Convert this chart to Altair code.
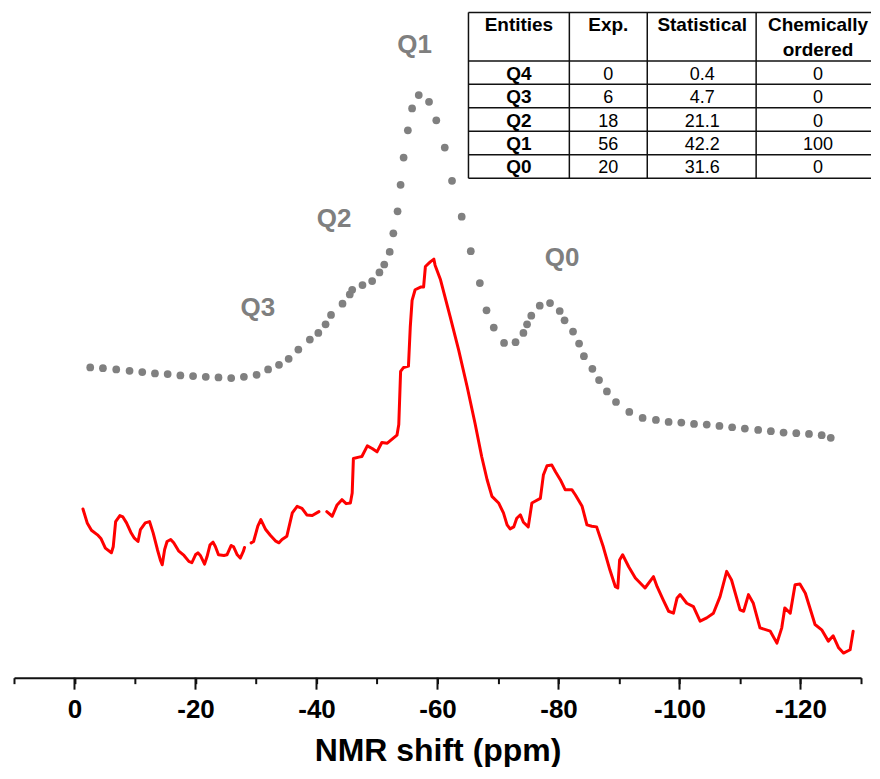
import altair as alt
import pandas as pd

# ---------------- data ----------------
# red experimental spectrum, three traced pieces (ppm, intensity in arbitrary units)
red_ppm_1 = [-1.4, -2.1, -2.8, -3.8, -4.4, -5.1, -6.1, -6.4, -6.8, -7.5,
             -8.0, -8.6, -9.3, -9.9, -10.5, -10.9, -11.7, -12.4, -13.0, -13.7,
             -14.2, -14.5, -14.9, -15.3, -15.9, -16.4, -17.2, -18.1, -18.9, -19.4,
             -20.0, -20.4, -20.8, -21.5, -21.9, -22.4, -22.9, -23.3, -23.8, -24.7,
             -25.2, -25.9, -26.3, -26.9, -27.4, -27.9, -28.1]
red_int_1 = [25.4, 23.3, 22.2, 21.5, 20.9, 19.5, 18.8, 19.7, 23.5, 24.4,
             24.2, 23.3, 21.9, 21.0, 20.5, 22.3, 23.3, 23.5, 21.8, 19.3,
             17.7, 17.0, 19.3, 20.5, 20.8, 20.3, 19.1, 18.4, 17.5, 17.3,
             18.5, 18.8, 18.4, 17.1, 18.2, 20.0, 20.4, 19.7, 18.5, 18.4,
             18.5, 19.9, 19.7, 18.5, 18.0, 19.0, 19.6]

red_ppm_2 = [-29.2, -29.6, -30.3, -30.8, -31.6, -32.4, -33.2, -33.8, -34.3, -35.1,
             -36.0, -36.8, -37.6, -38.4, -39.3, -40.4]
red_int_2 = [20.3, 20.5, 22.8, 23.8, 22.3, 21.4, 20.6, 20.3, 20.8, 21.3,
             24.8, 25.8, 25.5, 24.5, 24.4, 25.0]

red_ppm_3 = [-41.7, -42.6, -43.4, -44.2, -44.9, -45.6, -45.9, -46.1, -47.0, -47.5,
             -48.4, -49.2, -50.0, -50.8, -51.7, -52.5, -53.3, -53.6, -53.9, -54.4,
             -55.2, -55.5, -55.8, -56.3, -57.2, -57.7, -58.0, -58.8, -59.4, -59.6,
             -60.5, -62.1, -63.5, -64.9, -66.2, -67.3, -68.2, -69.0, -70.1, -70.9,
             -71.5, -72.0, -72.6, -73.1, -73.7, -74.2, -75.0, -75.6, -76.2, -77.0,
             -77.5, -78.1, -78.9, -79.5, -80.3, -81.1, -82.2, -82.8, -83.9, -84.7,
             -85.5, -86.3, -87.4, -88.5, -89.4, -89.8, -90.1, -90.6, -91.6, -92.7,
             -94.3, -95.7, -96.3, -97.3, -98.2, -99.0, -99.6, -100.1, -101.2, -102.3,
             -103.4, -104.5, -105.6, -106.7, -107.8, -108.6, -110.0, -110.6, -111.4, -112.2,
             -113.3, -115.0, -116.1, -116.9, -117.4, -118.3, -119.1, -119.9, -120.8, -122.4,
             -123.5, -124.6, -125.4, -126.3, -127.1, -128.2, -128.7]
red_int_3 = [25.0, 24.3, 26.0, 26.8, 26.2, 26.3, 27.8, 33.0, 33.2, 33.3,
             34.9, 34.5, 34.0, 35.4, 35.3, 35.9, 36.5, 38.1, 46.1, 46.7,
             46.9, 52.8, 56.8, 58.4, 58.8, 58.8, 61.9, 62.6, 63.0, 62.1,
             59.9, 54.3, 49.3, 43.8, 38.3, 33.3, 29.8, 27.3, 26.3, 24.8,
             23.0, 22.4, 22.7, 24.0, 24.5, 23.4, 22.7, 26.3, 26.6, 27.0,
             30.5, 31.9, 32.0, 31.0, 29.8, 28.3, 28.3, 27.5, 25.8, 23.0,
             22.8, 22.7, 19.7, 16.2, 13.7, 13.5, 17.7, 18.5, 16.7, 15.0,
             13.5, 15.2, 13.7, 11.7, 10.0, 9.7, 12.0, 12.5, 11.2, 10.7,
             8.5, 9.0, 9.7, 12.2, 16.0, 14.7, 10.2, 10.0, 12.5, 11.2,
             7.5, 7.0, 5.2, 7.5, 10.5, 9.7, 14.0, 14.1, 12.7, 8.0,
             7.2, 5.5, 6.3, 4.5, 3.7, 4.2, 7.0]

# grey dotted (simulated) spectrum
grey_ppm = [-2.6, -4.7, -6.9, -9.1, -11.2, -13.3, -15.4, -17.5, -19.6, -21.7,
            -23.8, -25.9, -28.0, -30.1, -32.0, -33.8, -35.4, -37.0, -38.9, -40.3,
            -41.5, -42.4, -44.3, -45.5, -45.9, -47.6, -49.2, -50.4, -51.2, -52.1,
            -52.7, -53.4, -53.9, -54.4, -55.1, -55.8, -56.9, -58.6, -59.8, -61.2,
            -62.4, -64.0, -65.5, -67.0, -68.1, -69.3, -71.0, -72.9, -74.2, -74.8,
            -75.5, -76.9, -78.6, -80.2, -81.0, -82.4, -83.4, -84.2, -85.6, -86.7,
            -88.0, -89.5, -91.7, -93.9, -96.1, -98.2, -100.3, -102.4, -104.5, -106.6,
            -108.7, -110.8, -113.0, -115.1, -117.2, -119.3, -121.4, -123.5, -125.0]
grey_int = [46.7, 46.6, 46.4, 46.2, 46.0, 45.8, 45.7, 45.5, 45.4, 45.3,
            45.2, 45.1, 45.3, 45.6, 46.4, 47.1, 48.0, 49.4, 50.9, 51.9,
            53.2, 54.6, 56.3, 57.7, 58.4, 59.1, 59.7, 61.0, 62.2, 64.1,
            66.9, 70.2, 74.2, 78.3, 82.4, 85.7, 87.7, 86.7, 83.9, 79.8,
            74.8, 69.4, 64.2, 59.4, 55.3, 52.7, 50.4, 50.5, 51.9, 53.2,
            54.5, 56.0, 56.4, 55.2, 53.8, 52.1, 50.3, 48.4, 46.5, 44.8,
            43.1, 41.5, 40.0, 39.1, 38.8, 38.5, 38.4, 38.2, 38.1, 37.9,
            37.7, 37.5, 37.3, 37.1, 36.9, 36.8, 36.7, 36.5, 36.1]

# peak annotations
peak_labels = ["Q3", "Q2", "Q1", "Q0"]
peak_ppm = [-30.3, -42.9, -56.2, -80.6]
peak_int = [55.7, 69.0, 95.3, 63.2]

# axis ticks
tick_values = list(range(10, -131, -10))
major_ticks = [0, -20, -40, -60, -80, -100, -120]

# table content
table_header = ["Entities", "Exp.", "Statistical", "Chemically"]
table_header2 = ["", "", "", "ordered"]
entities = ["Q4", "Q3", "Q2", "Q1", "Q0"]
exp_vals = ["0", "6", "18", "56", "20"]
stat_vals = ["0.4", "4.7", "21.1", "42.2", "31.6"]
chem_vals = ["0", "0", "0", "100", "0"]

# ---------------- layout ----------------
FONT = "Liberation Sans"
W, H = 848, 670
PAD = {"left": 5, "top": 0, "right": 0, "bottom": 0}
OX, OY = 8 + PAD["left"], 8 + PAD["top"]   # page position of plot origin

col_edges = [468, 569, 647, 756, 871]
row_edges = [12, 60.5, 84, 107.5, 131, 154.5, 178]
col_centers = [518.5, 608, 702, 818]
header_base = [30.5, 55.5]
row_base = [79.5, 103, 126.5, 149.5, 173]

xscale = alt.Scale(domain=[10, -130], nice=False, zero=False)
yscale = alt.Scale(domain=[0, 100.75], nice=False, zero=False)

# ---------------- frames ----------------
rows = []
for seg, (xs, ys) in enumerate([(red_ppm_1, red_int_1), (red_ppm_2, red_int_2), (red_ppm_3, red_int_3)]):
    for i, (a, b) in enumerate(zip(xs, ys)):
        rows.append({"seg": seg, "i": i, "ppm": a, "v": b})
red_df = pd.DataFrame(rows)
grey_df = pd.DataFrame({"ppm": grey_ppm, "v": grey_int})
peak_df = pd.DataFrame({"label": peak_labels, "ppm": peak_ppm, "v": peak_int})
major_df = pd.DataFrame({"ppm": major_ticks})

axis = alt.Axis(
    values=tick_values,
    labelExpr="datum.value % 20 === 0 ? (datum.value < 0 ? '-' + abs(datum.value) : '' + datum.value) : ''",
    tickSize=6, tickWidth=2, tickColor="#111111",
    domainColor="#111111", domainWidth=2,
    labelFont=FONT, labelFontSize=26, labelFontWeight="bold", labelColor="#000000",
    labelPadding=13, labelFlush=False, labelOverlap=False,
    title="NMR shift (ppm)", titleFont=FONT, titleFontSize=32, titleFontWeight="bold",
    titleColor="#000000", titlePadding=13, grid=False,
)

red = alt.Chart(red_df).mark_line(color="#ff0000", strokeWidth=3, strokeJoin="round",
                                  strokeCap="round").encode(
    x=alt.X("ppm:Q", scale=xscale, axis=axis),
    y=alt.Y("v:Q", scale=yscale, axis=None),
    detail="seg:N",
    order="i:Q",
)

grey = alt.Chart(grey_df).mark_circle(size=60, color="#808080", opacity=1).encode(
    x=alt.X("ppm:Q", scale=xscale),
    y=alt.Y("v:Q", scale=yscale),
)

peaks = alt.Chart(peak_df).mark_text(
    font=FONT, fontSize=26, fontWeight="bold", color="#7f7f7f", align="center", baseline="middle"
).encode(
    x=alt.X("ppm:Q", scale=xscale),
    y=alt.Y("v:Q", scale=yscale),
    text="label:N",
)

majors = alt.Chart(major_df).mark_rule(color="#111111", strokeWidth=2).encode(
    x=alt.X("ppm:Q", scale=xscale),
    y=alt.value(H),
    y2=alt.value(H + 12),
)

main = alt.layer(red, grey, peaks, majors)

# ---------------- table (pixel layout) ----------------
lines = []
for cx in col_edges[:-1]:
    lines.append({"x": cx - OX, "x2": cx - OX, "y": row_edges[0] - OY, "y2": row_edges[-1] - OY})
for ry in row_edges:
    lines.append({"x": col_edges[0] - OX, "x2": col_edges[-1] - OX, "y": ry - OY, "y2": ry - OY})
lines_df = pd.DataFrame(lines)

bold_cells, reg_cells = [], []
for j, t in enumerate(table_header):
    bold_cells.append({"x": col_centers[j] - OX, "y": header_base[0] - OY, "t": t})
for j, t in enumerate(table_header2):
    if t:
        bold_cells.append({"x": col_centers[j] - OX, "y": header_base[1] - OY, "t": t})
for r, name in enumerate(entities):
    bold_cells.append({"x": col_centers[0] - OX, "y": row_base[r] - OY, "t": name})
    for j, vals in enumerate([exp_vals, stat_vals, chem_vals], start=1):
        reg_cells.append({"x": col_centers[j] - OX, "y": row_base[r] - OY, "t": vals[r]})
bold_df = pd.DataFrame(bold_cells)
reg_df = pd.DataFrame(reg_cells)

tab_lines = alt.Chart(lines_df).mark_rule(color="#111111", strokeWidth=1.5).encode(
    x=alt.X("x:Q", scale=None, axis=None),
    x2="x2:Q",
    y=alt.Y("y:Q", scale=None, axis=None),
    y2="y2:Q",
)
tab_bold = alt.Chart(bold_df).mark_text(
    font=FONT, fontSize=19, fontWeight="bold", color="#000000", align="center", baseline="alphabetic"
).encode(
    x=alt.X("x:Q", scale=None, axis=None),
    y=alt.Y("y:Q", scale=None, axis=None),
    text="t:N",
)
tab_reg = alt.Chart(reg_df).mark_text(
    font=FONT, fontSize=18, color="#000000", align="center", baseline="alphabetic"
).encode(
    x=alt.X("x:Q", scale=None, axis=None),
    y=alt.Y("y:Q", scale=None, axis=None),
    text="t:N",
)
table = alt.layer(tab_lines, tab_bold, tab_reg)

chart = alt.layer(main, table).resolve_scale(x="independent", y="independent").properties(
    width=W, height=H, padding=PAD, background="white"
).configure_view(stroke=None)

chart.save("out.html", embed_options={"renderer": "svg", "actions": False})
